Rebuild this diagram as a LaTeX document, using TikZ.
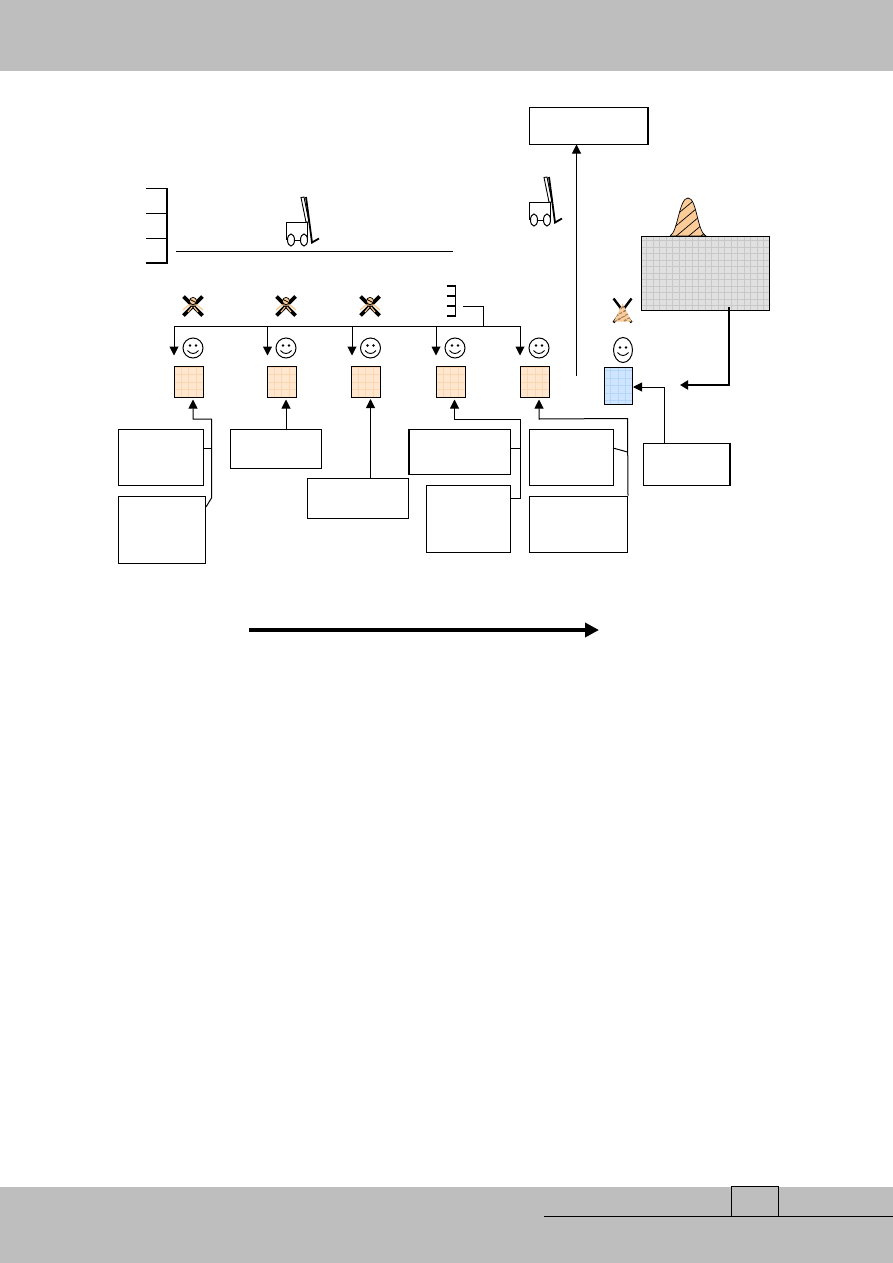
\documentclass[tikz,border=0pt]{standalone}
\usetikzlibrary{arrows.meta,shapes.geometric,patterns.meta}
\definecolor{bandgray}{HTML}{BEBEBE}
\definecolor{orangefill}{HTML}{FFE6CE}
\definecolor{orangegrid}{HTML}{FCD6B0}
\definecolor{bluefill}{HTML}{CFE5FF}
\definecolor{bluegrid}{HTML}{B4D6F8}
\definecolor{grayfill}{HTML}{E0E0E0}
\definecolor{graygrid}{HTML}{C8C8C8}
\definecolor{bellfill}{HTML}{FBCB98}
\tikzset{
  band/.style={fill=bandgray,inner sep=0pt},
  plainbox/.style={draw,line width=1pt,inner sep=0pt},
  gridbox/.style n args={4}{draw,line width=#4,inner sep=0pt,fill=#1,path picture={
    \draw[#2,line width=.8pt,step=#3] (path picture bounding box.north west) grid (path picture bounding box.south east);}},
  orangebox/.style={gridbox={orangefill}{orangegrid}{7.5pt}{1pt},minimum width=29pt,minimum height=30.5pt},
  smiley/.style={draw,ellipse,line width=1pt,inner sep=0pt,path picture={
    \begin{scope}[shift={(path picture bounding box.center)}]
    \fill (-3,-2.5) circle (1.3pt);
    \fill (3,-2.5) circle (1.3pt);
    \draw[line width=.9pt] (-5.5,2.5) .. controls (-2.5,6.5) and (2.5,6.5) .. (5.5,2.5);
    \end{scope}}},
  flow/.style={draw,line width=1pt,-{Triangle[length=9pt,width=9pt]}},
  wire/.style={draw,line width=1pt},
  forklift/.pic={
    \path[draw,line width=1pt] (0,18) -- (0,0) -- (21,0) -- (21,18);
    \path[draw,line width=1pt] (5,18) -- (18,18);
    \path[draw,line width=1pt,fill=white] (5,18) ellipse (3.5pt and 6pt);
    \path[draw,line width=1pt,fill=white] (18,18) ellipse (3.5pt and 6pt);
    \path[draw,line width=.9pt,fill=white] (15,-24.5) -- (18,-25) -- (23,0) -- (20,0) -- cycle;
    \path[draw,line width=1.8pt] (20,-25) -- (26,20.5) -- (33,16.5);
  },
  crossed/.pic={
    \path[draw,line width=3.6pt] (-9.5,-9.5) -- (9.5,9.5);
    \path[draw,line width=3.6pt] (9.5,-9.5) -- (-9.5,9.5);
    \path[draw=bellfill,line width=1.3pt] (-10,4) -- (-4,-1) -- (4,-1) -- (10,4);
    \path[draw=bellfill,line width=1.1pt] (-5,6) -- (-1,1);
    \path[draw=bellfill,line width=1.1pt] (5,6) -- (1,1);
    \path[draw,line width=.7pt,fill=bellfill] (0,-5) circle (3.6pt);
    \path[draw,line width=.7pt] (-3,-6.5) -- (3,-3.5);
  }
}
\begin{document}
\begin{tikzpicture}[x=1pt,y=-1pt]
\useasboundingbox (0,0) rectangle (893,1263);
% bands
\node[band,minimum width=893pt,minimum height=71pt] (topband) at (446.5,35.5) {};
\node[band,minimum width=893pt,minimum height=76pt] (footband) at (446.5,1225) {};
\node[draw,line width=1pt,inner sep=0pt,minimum width=47.5pt,minimum height=30pt] (pagebox) at (754.75,1201) {};
\coordinate (footleft) at (544,1216.5);
\coordinate (footright) at (893,1216.5);
\path[wire] (footleft) -- (footright);
% left brackets and floor
\path[draw,line width=1.8pt] (146,188.5) -- (167,188.5) -- (167,263) -- (146,263);
\path[wire] (146,213.5) -- (167,213.5);
\path[wire] (146,238.5) -- (167,238.5);
\coordinate (floorl) at (176,251.5);
\coordinate (floorr) at (453,251.5);
\path[wire] (floorl) -- (floorr);
\pic at (286,222) {forklift};
\pic at (529,202) {forklift};
% crosses
\pic at (193,306) {crossed};
\pic at (286,306) {crossed};
\pic at (370,306) {crossed};
% small bracket
\path[draw,line width=1.6pt] (446.5,286) -- (455.5,286) -- (455.5,316) -- (446.5,316);
\path[draw,line width=1.4pt] (446.5,296) -- (455.5,296);
\path[draw,line width=1.4pt] (446.5,306) -- (455.5,306);
% distribution line
\coordinate (split) at (483.5,326);
\coordinate (splitl) at (174,326);
\coordinate (splitr) at (521,326);
\coordinate (bracketout) at (463,306);
\path[wire] (bracketout) -- (483.5,306) -- (split);
\path[wire] (splitl) -- (splitr);
% workstations
\node[orangebox] (sta) at (188.5,382) {};
\node[orangebox] (stb) at (281.5,382) {};
\node[orangebox] (stc) at (365.5,382) {};
\node[orangebox] (std) at (450.5,382) {};
\node[orangebox] (ste) at (535,382) {};
\node[gridbox={bluefill}{bluegrid}{7.5pt}{1pt},minimum width=28pt,minimum height=37pt] (stf) at (618,385.5) {};
\node[smiley,minimum width=20pt,minimum height=20pt] (faca) at (193,348) {};
\node[smiley,minimum width=20pt,minimum height=20pt] (facb) at (286,348) {};
\node[smiley,minimum width=20pt,minimum height=20pt] (facc) at (370.5,348) {};
\node[smiley,minimum width=20pt,minimum height=20pt] (facd) at (455,348) {};
\node[smiley,minimum width=20pt,minimum height=20pt] (face) at (539,348) {};
\node[smiley,minimum width=19pt,minimum height=25pt] (facf) at (623,350) {};
\path[flow] (174,326) -- (174,355.5);
\path[flow] (267.5,326) -- (267.5,355.5);
\path[flow] (352,326) -- (352,355.5);
\path[flow] (436,326) -- (436,355.5);
\path[flow] (520,326) -- (520,355.5);
% top right
\node[plainbox,minimum width=118.5pt,minimum height=37pt] (store) at (588.75,125.5) {};
\path[draw,line width=1.8pt] (648,107) -- (648,144);
\coordinate (storefoot) at (576.5,376);
\path[flow] (storefoot) -- (store.south -| storefoot);
\path[draw,line width=.7pt,fill=bellfill,postaction={pattern={Lines[angle=40,distance=8pt,line width=.7pt]}}] (670,236) .. controls (678,232) and (679,198) .. (688,198) .. controls (697,198) and (697,232) .. (706,236) -- cycle;
\node[gridbox={grayfill}{graygrid}{6.5pt}{1pt},minimum width=128.5pt,minimum height=74pt] (buffer) at (705.25,273) {};
\coordinate (bufferout) at (729,307);
\coordinate (bufferin) at (680,385);
\path[draw,line width=2.4pt,-{Triangle[length=8pt,width=9pt]}] (bufferout) -- (bufferout |- bufferin) -- (bufferin);
\path[draw,line width=2.4pt] (613.5,298.5) -- (631.5,322.5);
\path[draw,line width=2.4pt] (631.5,298.5) -- (613.5,322.5);
\path[fill=bellfill,postaction={pattern={Lines[angle=30,distance=4pt,line width=.8pt]}}] (622.5,303.5) -- (614,321.5) -- (631.5,321.5) -- cycle;
% lower boxes
\node[plainbox,minimum width=85pt,minimum height=56pt] (boxa) at (160.5,457) {};
\node[plainbox,minimum width=87.5pt,minimum height=67pt] (boxb) at (161.75,529.5) {};
\node[plainbox,minimum width=91pt,minimum height=39pt] (boxc) at (275.5,448.5) {};
\node[plainbox,minimum width=101pt,minimum height=40pt] (boxd) at (357.5,498) {};
\node[plainbox,minimum width=101.5pt,minimum height=45pt] (boxe) at (459.75,451.5) {};
\node[plainbox,minimum width=84pt,minimum height=67pt] (boxf) at (468.5,518.5) {};
\node[plainbox,minimum width=84pt,minimum height=56pt] (boxg) at (571,457) {};
\node[plainbox,minimum width=98.5pt,minimum height=56pt] (boxh) at (578.25,524) {};
\node[plainbox,minimum width=86.5pt,minimum height=42pt] (boxi) at (686.25,464) {};
\path[draw,line width=1.8pt] (boxf.south west) -- (boxf.south east);
\path[draw,line width=1.8pt] (boxh.south west) -- (boxh.south east);
\path[draw,line width=1.8pt] (boxi.north east) -- (boxi.south east);
\path[draw,line width=1.8pt] (boxd.north east) -- (boxd.south east);
\path[draw,line width=1.8pt] (boxe.north west) -- (boxe.south west);
% inputs
\coordinate (ina) at (193,399.5);
\coordinate (inb) at (286,399.5);
\coordinate (inc) at (370.5,399);
\coordinate (ind) at (454.5,399.5);
\coordinate (ine) at (539,399.5);
\coordinate (inf) at (633,387);
\path[wire] (203,448) -- (211.5,448);
\path[flow] (boxb.east |- 0,507) -- (211.5,498) -- (211.5,419) -- (193,419) -- (ina);
\path[flow] (boxc.north -| inb) -- (inb);
\path[flow] (boxd.north -| inc) -- (inc);
\path[wire] (510.5,448) -- (520,448);
\path[flow] (510.5,498) -- (520,498) -- (520,419) -- (454.5,419) -- (ind);
\path[wire] (613,448) -- (627.5,452);
\path[flow] (boxh.north east) -- (627.5,418.5) -- (539,419) -- (ine);
\path[flow] (664.5,443) -- (664.5,387) -- (inf);
% time line
\coordinate (timel) at (249,630);
\coordinate (timer) at (599,630);
\path[draw,line width=4pt,-{Triangle[length=14pt,width=14pt]}] (timel) -- (timer);
\end{tikzpicture}
\end{document}
